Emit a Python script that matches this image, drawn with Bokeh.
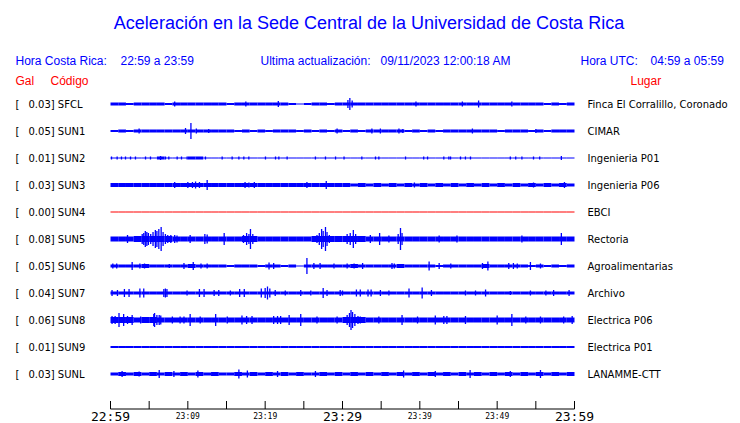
from bokeh.plotting import figure
from bokeh.models import Range1d
from bokeh.core.properties import value
from bokeh.embed import file_html
from bokeh.resources import INLINE

# ---------------- data ----------------
TITLE = "Aceleración en la Sede Central de la Universidad de Costa Rica"
LOCAL_TIME = "22:59 a 23:59"
UTC_TIME = "04:59 a 05:59"
UPDATED = "09/11/2023 12:00:18 AM"

codes = ["SFCL", "SUN1", "SUN2", "SUN3", "SUN4", "SUN5", "SUN6", "SUN7", "SUN8", "SUN9", "SUNL"]
gal = [0.03, 0.05, 0.01, 0.03, 0.00, 0.08, 0.05, 0.04, 0.06, 0.01, 0.03]
places = ["Finca El Corralillo, Coronado", "CIMAR", "Ingenieria P01", "Ingenieria P06", "EBCI",
          "Rectoria", "Agroalimentarias", "Archivo", "Electrica P06", "Electrica P01", "LANAMME-CTT"]
trace_color = ["blue", "blue", "blue", "blue", "red", "blue", "blue", "blue", "blue", "blue", "blue"]

# per-minute band thickness of each trace (one digit per minute, 60 minutes)
band = {
    "SFCL": "3323333233" "3333323333" "3332123323" "3333333333" "3333333333" "3333332323",
    "SUN1": "2323333333" "3333332323" "2333232323" "2323333323" "2323333333" "2333232333",
    "SUN2": "1111113111" "3311111111" "1111111111" "1111111111" "1111111111" "1111111111",
    "SUN3": "4444444444" "4444444444" "4444444444" "4343434343" "4343434343" "4343434343",
    "SUN4": "1111111111" "1111111111" "1111111111" "1111111111" "1111111111" "1111111111",
    "SUN5": "5556666655" "5555555665" "5555556666" "6665555555" "5555555555" "5555555555",
    "SUN6": "3333433333" "4333323332" "3323133333" "3433333433" "3323333343" "3333232323",
    "SUN7": "3333333333" "3333333333" "3333333333" "3333333333" "3333333333" "3333333333",
    "SUN8": "6665665555" "5555555555" "5555555555" "6665555555" "5555555555" "5555555555",
    "SUN9": "2222222222" "2222222222" "2222222222" "2222222222" "2222222222" "2222222222",
    "SUNL": "3434343434" "3434334343" "4343433434" "3434343434" "3434343434" "3434343434",
}

# bursts / peaks: (minute after 22:59, half amplitude)
peaks = {
    "SFCL": [(8.3, 2.5), (17.5, 2.5), (21.7, 3), (30.7, 4), (30.95, 6), (31.25, 3.5),
             (39.5, 2.5), (45.5, 2.5), (47.6, 3.5), (51.9, 2.5)],
    "SUN1": [(3.7, 2.5), (9.7, 3), (10.4, 8), (11.1, 2.5), (12.7, 2), (29.3, 2.5), (33.8, 2.5),
             (34.9, 2.5), (37.3, 2.5), (37.8, 2), (46.8, 2.5), (55.0, 2)],
    "SUN2": [(0.13, 1.5), (0.86, 1.5), (1.42, 1.5), (1.94, 1.5), (2.59, 1.5), (3.23, 1.5),
             (4.53, 1.5), (5.17, 1.5), (6.47, 2), (7.11, 1.5), (7.54, 1.5), (8.62, 1.5),
             (9.18, 1.5), (9.91, 1.5), (12.28, 1.5), (14.44, 1.5), (15.73, 1.5), (16.6, 1.5),
             (17.24, 1.5), (17.89, 1.5), (20.04, 1.5), (21.34, 1.5), (21.77, 1.5), (22.84, 1.5),
             (26.5, 1.5), (27.8, 1.5), (29.1, 1.5), (30.2, 1.5), (32.5, 1.5), (34.27, 1.5),
             (34.7, 1.5), (38.15, 1.5), (40.5, 1.5), (41.0, 1.5), (43.1, 1.5), (43.75, 1.5),
             (43.97, 1.5), (45.26, 1.5), (45.9, 1.5), (46.55, 1.5), (51.7, 1.5), (52.4, 1.5),
             (53.2, 1.5), (54.7, 1.5), (55.5, 1.5), (58.3, 2)],
    "SUN3": [(8.3, 3), (10.0, 3), (10.6, 3), (11.0, 3.5), (11.5, 3), (12.5, 5), (17.4, 3),
             (17.9, 2.5), (18.6, 3), (25.4, 3), (27.9, 4), (39.3, 2.5), (54.7, 2.5), (58.7, 3)],
    "SUN4": [],
    "SUN5": [(2.2, 4), (4.1, 5), (4.3, 6), (4.5, 8), (4.7, 7), (4.9, 6), (5.2, 5), (5.5, 7),
             (5.8, 9), (6.0, 8), (6.25, 10), (6.55, 12), (6.8, 7), (7.1, 5), (7.4, 4), (7.8, 4),
             (8.3, 4), (8.6, 3.5), (10.3, 4), (12.2, 5), (12.5, 4.5), (14.7, 6), (17.2, 4),
             (17.6, 6), (17.9, 5), (18.1, 10), (18.4, 5), (26.7, 4), (27.0, 6), (27.3, 10),
             (27.5, 8), (27.8, 12), (28.0, 7), (28.3, 4), (30.6, 5), (31.0, 6), (31.4, 9),
             (31.7, 5), (33.6, 4), (34.8, 6), (36.0, 3.5), (37.2, 5), (37.5, 11), (37.7, 6),
             (42.5, 3.5), (44.8, 3.5), (53.2, 3.5), (58.3, 6)],
    "SUN6": [(0.3, 2.5), (0.8, 2.5), (2.8, 4), (3.8, 2.5), (4.4, 2.5), (7.6, 2), (9.5, 3),
             (10.7, 4), (11.7, 2.5), (12.5, 2.5), (20.5, 3.5), (21.1, 3), (25.4, 8), (26.3, 3),
             (27.1, 3), (28.9, 2.5), (30.6, 2.5), (31.5, 2.5), (32.6, 3), (36.4, 3), (36.7, 2.5),
             (41.2, 4.5), (42.5, 3), (44.0, 2.5), (48.1, 3), (48.8, 4.5), (51.5, 3), (52.1, 3),
             (52.6, 2.5), (54.3, 4), (55.6, 2.5)],
    "SUN7": [(0.2, 3), (0.9, 3), (1.8, 4), (2.4, 4), (3.8, 4.5), (4.3, 4.5), (6.9, 4), (7.1, 4.5),
             (7.3, 4), (9.9, 2.5), (11.5, 4), (12.1, 4), (13.4, 3), (14.0, 3), (15.5, 2.5),
             (16.7, 4), (17.3, 4), (19.5, 4.5), (20.0, 5), (20.3, 6.5), (20.6, 4.5), (21.3, 3),
             (22.6, 2.5), (24.6, 3), (25.9, 2.5), (27.5, 5), (28.0, 3), (29.7, 3), (30.0, 2.5),
             (31.8, 3.5), (32.3, 3.5), (33.3, 3.5), (33.7, 3.5), (34.9, 3), (36.0, 2.5),
             (38.6, 4.5), (40.3, 5.5), (41.5, 3), (45.9, 2.5), (47.2, 2.5), (48.5, 3.5),
             (51.7, 2), (54.3, 2.5), (56.3, 2.5), (57.3, 3), (59.3, 3)],
    "SUN8": [(0.2, 4), (0.6, 4), (1.1, 7), (1.7, 6), (2.2, 4), (2.8, 5), (3.9, 3.5), (5.6, 6),
             (5.7, 7), (6.0, 5), (6.3, 5), (6.5, 4.5), (8.0, 3.5), (9.0, 3.5), (9.5, 3.5),
             (10.3, 6), (11.6, 3.5), (13.6, 6), (15.1, 3.5), (17.0, 4.5), (17.6, 4), (18.3, 4),
             (21.1, 4), (21.6, 4), (22.0, 4), (23.1, 5), (24.6, 6), (26.7, 3.5), (29.3, 3.5),
             (30.6, 5), (30.9, 7), (31.1, 10), (31.3, 8), (31.6, 6), (32.0, 4), (32.3, 3.5),
             (34.7, 3.5), (37.7, 5), (39.7, 3.5), (42.0, 4.5), (43.1, 4), (43.5, 4), (45.9, 4),
             (50.0, 4.5), (51.9, 6), (53.7, 3.5), (55.6, 3.5), (58.6, 3.5), (59.7, 4)],
    "SUN9": [],
    "SUNL": [(1.5, 3), (3.7, 2.5), (6.3, 4), (8.2, 3), (11.3, 3.5), (16.6, 4.5), (17.7, 3.5),
             (21.6, 3), (26.5, 3), (37.9, 3.5), (42.0, 3), (46.5, 4), (51.7, 3), (55.6, 4)],
}

tick_minutes = [0, 5, 10, 15, 20, 25, 30, 35, 40, 45, 50, 55, 60]
label_minutes = [0, 10, 20, 30, 40, 50, 60]
tick_labels = ["22:59", "23:09", "23:19", "23:29", "23:39", "23:49", "23:59"]
big_ticks = [0, 30, 60]

# ---------------- layout ----------------
W, H = 740, 423
X0, PX_PER_MIN = 110.0, 464.0 / 60.0   # page pixel of 22:59 and pixels per minute
def px(xpix):
    return (xpix - X0) / PX_PER_MIN

ROW0, ROW_STEP = 103.5, 27.0
AXIS_Y = 408.5
TICK_LEN = 8

BLUE = "#0000ff"
RED = "#ff0000"
SANS = value("Liberation Sans")
DJV = value("DejaVu Sans")
MONO = value("DejaVu Sans Mono")

p = figure(width=W, height=H,
           x_range=Range1d(px(0), px(W)), y_range=Range1d(H, 0),
           x_axis_type=None, y_axis_type=None,
           output_backend="svg", toolbar_location=None, min_border=0)
p.outline_line_color = None
p.background_fill_color = "white"

# traces
ql, qr, qt, qb, qc = [], [], [], [], []
sx, sy0, sy1, sc = [], [], [], []
for i, code in enumerate(codes):
    yc = ROW0 + ROW_STEP * i
    for m, d in enumerate(band[code]):
        h = int(d) / 2.0
        ql.append(m); qr.append(m + 1); qt.append(yc - h); qb.append(yc + h)
        qc.append(trace_color[i])
    for t, a in peaks[code]:
        sx.append(t); sy0.append(yc - a); sy1.append(yc + a); sc.append(trace_color[i])

p.quad(left=ql, right=qr, top=qt, bottom=qb, fill_color=qc, line_color=None)
p.segment(x0=sx, y0=sy0, x1=sx, y1=sy1, line_color=sc, line_width=1.3)

# station labels
ys = [ROW0 + ROW_STEP * i for i in range(len(codes))]
p.text(x=[px(15)] * len(codes), y=ys, text=["["] * len(codes), text_font=DJV,
       text_font_size="10px", text_baseline="middle", text_color="black")
p.text(x=[px(28)] * len(codes), y=ys, text=[f"{g:.2f}] {c}" for g, c in zip(gal, codes)],
       text_font=DJV, text_font_size="10px", text_baseline="middle", text_color="black")
p.text(x=[px(587)] * len(codes), y=ys, text=places, text_font=DJV,
       text_font_size="10px", text_baseline="middle", text_color="black")

# header
p.text(x=[px(368.5)], y=[22], text=[TITLE], text_font=SANS, text_font_size="18px",
       text_align="center", text_baseline="middle", text_color=BLUE)
p.text(x=[px(15), px(120), px(260), px(380), px(580), px(650)], y=[60.5] * 6,
       text=["Hora Costa Rica:", LOCAL_TIME, "Ultima actualización:", UPDATED, "Hora UTC:", UTC_TIME],
       text_font=SANS, text_font_size="12px", text_baseline="middle", text_color=BLUE)
p.text(x=[px(15), px(50), px(630)], y=[80.5] * 3, text=["Gal", "Código", "Lugar"],
       text_font=SANS, text_font_size="12px", text_baseline="middle", text_color=RED)

# time axis (drawn through the x scale)
p.segment(x0=[tick_minutes[0]], y0=[AXIS_Y], x1=[tick_minutes[-1]], y1=[AXIS_Y],
          line_color="black", line_width=1)
p.segment(x0=tick_minutes, y0=[AXIS_Y] * len(tick_minutes), x1=tick_minutes,
          y1=[AXIS_Y - TICK_LEN] * len(tick_minutes), line_color="black", line_width=1)
sizes = ["13px" if t in big_ticks else "8px" for t in label_minutes]
ylab = [416 if t in big_ticks else 415.5 for t in label_minutes]
p.text(x=label_minutes, y=ylab, text=tick_labels, text_font=MONO, text_font_size=sizes,
       text_align="center", text_baseline="middle", text_color="black")

open("out.html", "w").write(file_html(p, INLINE))
